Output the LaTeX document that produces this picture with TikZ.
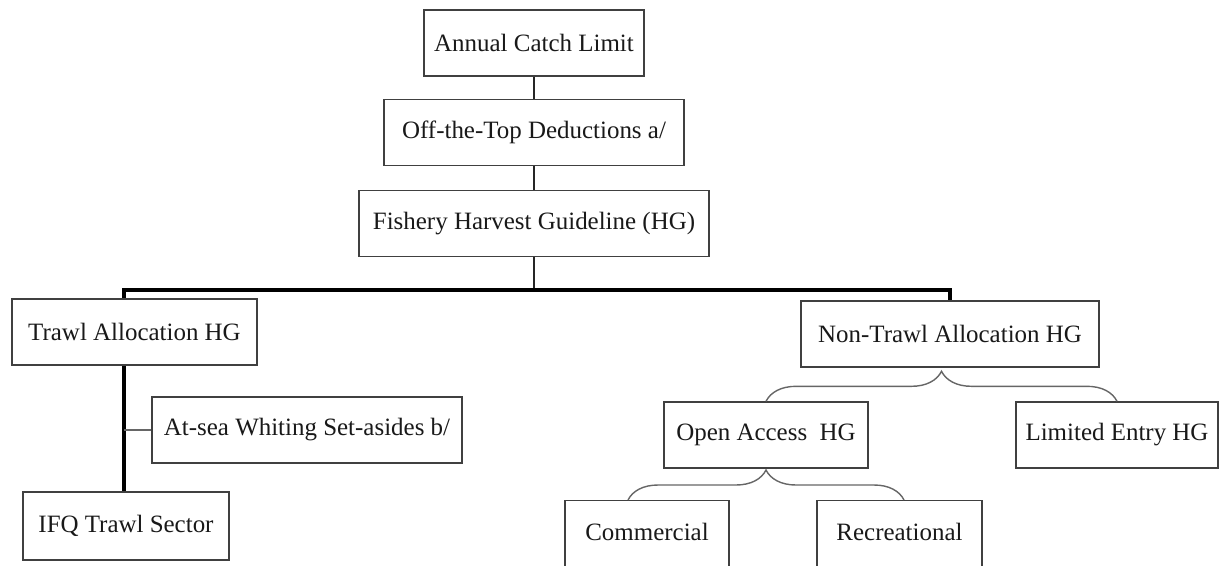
\documentclass[tikz,border=0pt]{standalone}
\usepackage{fontspec}
\setmainfont{Liberation Serif}
\usetikzlibrary{calc, positioning, decorations.pathreplacing}

\begin{document}
\begin{tikzpicture}[x=0.02cm, y=-0.02cm, font=\fontsize{14.2pt}{17pt}\selectfont,
  box/.style={draw=black!75, line width=0.8pt, fill=white, text=black!90, inner sep=0pt, minimum height=1.32cm},
  link/.style={draw=black!85, line width=1pt},
  trunk/.style={draw=black, line width=2.2pt},
  curly/.style={draw=black!60, line width=0.8pt, decorate, decoration={brace, amplitude=0.6cm}}]
\useasboundingbox (0,0) rectangle (1222,565);
\clip (0,0) rectangle (1222,565);
% top chain
\node[box, minimum width=4.4cm] (acl) at (534,43) {Annual Catch Limit};
\node[box, minimum width=6cm, below=0.44cm of acl] (off) {Off-the-Top Deductions a/};
\node[box, minimum width=7cm, below=0.48cm of off] (hg) {Fishery Harvest Guideline (HG)};
\coordinate (bar) at (534,290);
% trawl side
\node[box, minimum width=4.9cm] (tr) at (134.5,332) {Trawl Allocation HG};
\node[box, minimum width=6.2cm] (ws) at (307,430) {At-sea Whiting Set-asides b/};
\node[box, minimum width=4.12cm, minimum height=1.36cm] (ifq) at (126,526) {IFQ Trawl Sector};
% non-trawl side
\node[box, minimum width=5.96cm] (nt) at (950,334) {Non-Trawl Allocation HG};
\node[box, minimum width=4.08cm] (oa) at (766,435) {Open Access~ HG};
\node[box, minimum width=4.04cm] (le) at (1117,435) {Limited Entry HG};
\node[box, minimum width=3.28cm, minimum height=1.5cm, text depth=0.25cm, anchor=north] (com) at (647,500) {Commercial};
\node[box, minimum width=3.3cm, minimum height=1.5cm, text depth=0.25cm, anchor=north] (rec) at (899.5,500) {Recreational};
% connectors
\draw[link] (acl) -- (off);
\draw[link] (off) -- (hg);
\draw[link] (hg) -- (hg |- bar);
\draw[trunk] ($(ifq.north)+(-2,0)$) -- ($(ifq.north |- tr.south)+(-2,0)$);
\draw[trunk] ($(ifq.north |- tr.north)+(-2,0)$) |- (bar) -| (nt.north);
\draw[draw=black!60, line width=0.8pt] (ws.west) -- ($(ws.west -| ifq.north)+(-2,0)$);
\draw[curly] (oa.north) -- (le.north);
\draw[curly] ($(oa.south |- com.north)+(-138,0)$) -- ($(oa.south |- com.north)+(138,0)$);
\end{tikzpicture}
\end{document}
